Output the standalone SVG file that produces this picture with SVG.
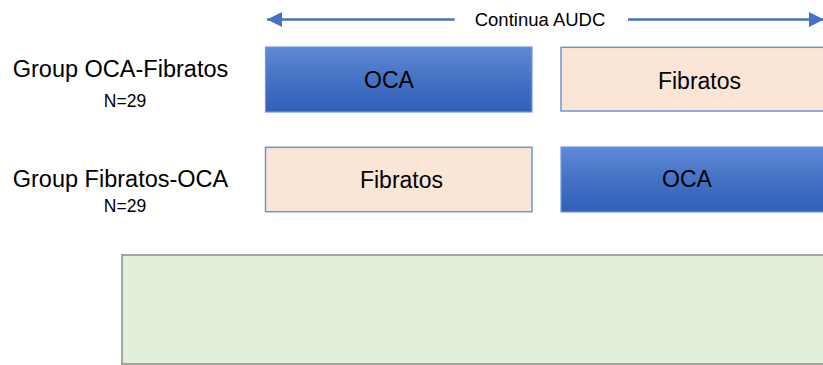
<svg xmlns="http://www.w3.org/2000/svg" width="823" height="365" viewBox="0 0 823 365">
  <style>
    text { font-family: "Liberation Sans", Arial, sans-serif; fill: #000000; }
    .lbl { font-size: 23.5px; text-anchor: middle; }
    .n { font-size: 17.5px; text-anchor: middle; }
    .box { font-size: 23px; text-anchor: middle; }
    .top { font-size: 18.5px; text-anchor: middle; }
    .blue { fill: url(#blueGrad); stroke: #7396dc; stroke-width: 1.2; }
    .peach { fill: #fbe5d6; stroke: #6f93d6; stroke-width: 1.5; }
    .green { fill: #e2efda; stroke: #a5a5a5; stroke-width: 2; }
    .arrow { stroke: #4472c4; stroke-width: 2.5; fill: none; }
  </style>
  <defs>
    <linearGradient id="blueGrad" x1="0" y1="0" x2="0" y2="1">
      <stop offset="0" stop-color="#6189d7"/>
      <stop offset="0.5" stop-color="#4472c4"/>
      <stop offset="1" stop-color="#2f5fb8"/>
    </linearGradient>
    <marker id="head" markerUnits="userSpaceOnUse" markerWidth="16" markerHeight="16" viewBox="0 0 16 16" refX="15" refY="8" orient="auto">
      <path d="M0,0.5 L15,8 L0,15.5 Z" fill="#4472c4"/>
    </marker>
  </defs>

  <g id="connectors">
    <line class="arrow" x1="454.7" y1="19.5" x2="267" y2="19.5" marker-end="url(#head)"/>
    <line class="arrow" x1="628" y1="19.5" x2="824" y2="19.5" marker-end="url(#head)"/>
    <text class="top" x="540" y="26">Continua AUDC</text>
  </g>

  <g id="group-oca-fibratos-label">
    <text class="lbl" x="120.5" y="77">Group OCA-Fibratos</text>
    <text class="n" x="125" y="106.5">N=29</text>
  </g>

  <g id="group-fibratos-oca-label">
    <text class="lbl" x="120.5" y="186.5">Group Fibratos-OCA</text>
    <text class="n" x="125" y="211.5">N=29</text>
  </g>

  <g id="row1-oca">
    <rect class="blue" x="265.5" y="47" width="266.5" height="65"/>
    <text class="box" x="389" y="88">OCA</text>
  </g>

  <g id="row1-fibratos">
    <rect class="peach" x="561" y="47.3" width="270" height="63.7"/>
    <text class="box" x="699.5" y="89">Fibratos</text>
  </g>

  <g id="row2-fibratos">
    <rect class="peach" x="265.5" y="147.3" width="266.5" height="64.4"/>
    <text class="box" x="401.5" y="188">Fibratos</text>
  </g>

  <g id="row2-oca">
    <rect class="blue" x="561" y="147" width="270" height="65"/>
    <text class="box" x="687" y="187">OCA</text>
  </g>

  <g id="green-box">
    <rect class="green" x="122" y="255" width="710" height="109"/>
  </g>
</svg>
